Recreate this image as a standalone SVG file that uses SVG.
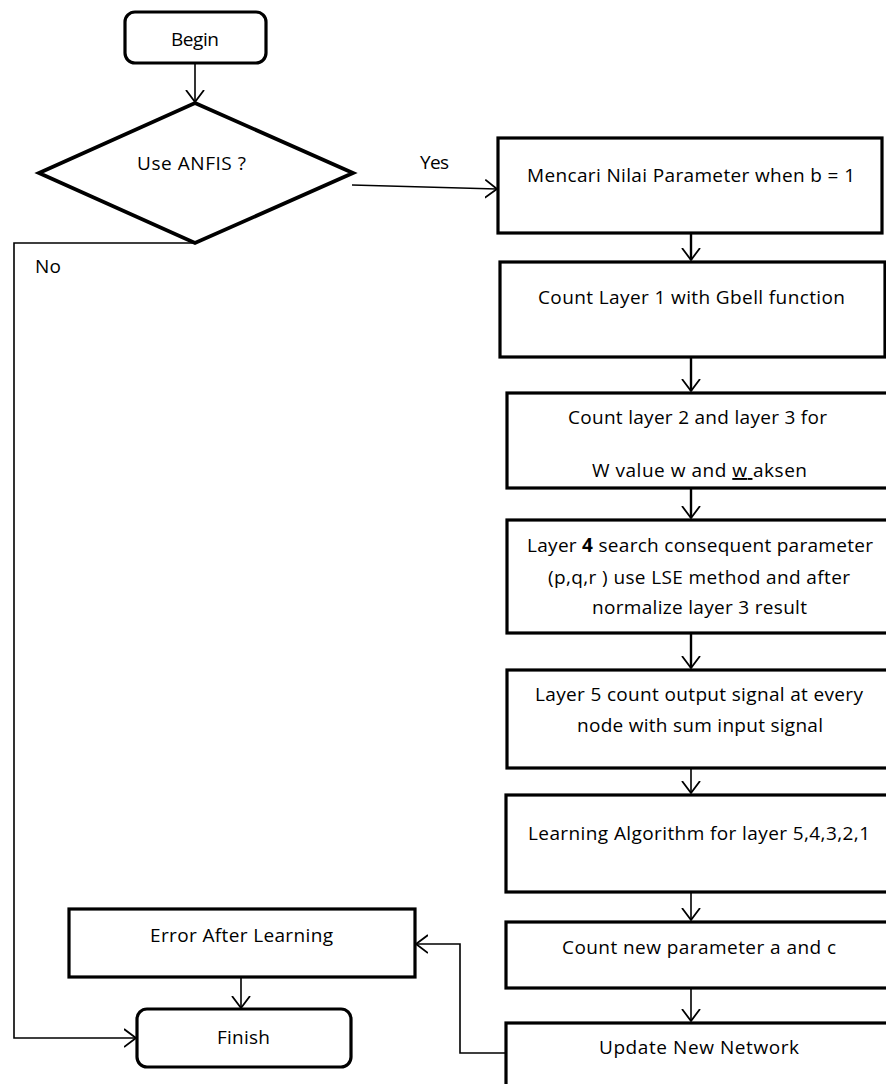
<svg xmlns="http://www.w3.org/2000/svg" width="886" height="1084" viewBox="0 0 886 1084">
<style>
.box{fill:#fff;stroke:#000;stroke-width:3.2}
.t{font-family:"Open Sans","Liberation Sans",sans-serif;font-size:19px;fill:#000}
.c{fill:none;stroke:#000;stroke-width:1.6}
.cv{fill:none;stroke:#000;stroke-width:2.4}
</style>
<defs>
<marker id="ah" markerUnits="userSpaceOnUse" markerWidth="14" markerHeight="20" refX="12" refY="9" orient="auto" viewBox="0 0 14 18">
<path d="M0,0 L12,9 L0,18" fill="none" stroke="#000" stroke-width="1.8"/>
</marker>
</defs>
<rect width="886" height="1084" fill="#fff"/>
<g id="connectors">
<path class="c" d="M195,63 L195,102" marker-end="url(#ah)"/>
<path class="c" d="M352,185 L497,189" marker-end="url(#ah)"/>
<path class="c" d="M195,243 L14,243 L14,1038 L136,1038" marker-end="url(#ah)"/>
<path class="cv" d="M691,233 L691,260" marker-end="url(#ah)"/>
<path class="cv" d="M691,357 L691,391" marker-end="url(#ah)"/>
<path class="cv" d="M691,488 L691,518" marker-end="url(#ah)"/>
<path class="cv" d="M691,633 L691,668" marker-end="url(#ah)"/>
<path class="c" d="M691,768 L691,793" marker-end="url(#ah)"/>
<path class="c" d="M691,892 L691,920" marker-end="url(#ah)"/>
<path class="c" d="M691,988 L691,1021" marker-end="url(#ah)"/>
<path class="c" d="M506,1053 L460,1053 L460,944 L416,944" marker-end="url(#ah)"/>
<path class="c" d="M241,977 L241,1008" marker-end="url(#ah)"/>
<text class="t" x="420" y="169" textLength="29">Yes</text>
<text class="t" x="35" y="273" textLength="26">No</text>
</g>
<g id="begin">
<rect class="box" x="125" y="12" width="141" height="51" rx="10"/>
<text class="t" x="171" y="46" textLength="48">Begin</text>
</g>
<g id="decision">
<polygon class="box" points="195,103 353,173 195,243 39,173" style="stroke-width:3.8"/>
<text class="t" x="137" y="170" textLength="109">Use ANFIS ?</text>
</g>
<g id="mencari">
<rect class="box" x="498" y="138" width="384" height="95"/>
<text class="t" x="527" y="182" textLength="328">Mencari Nilai Parameter when b = 1</text>
</g>
<g id="layer1">
<rect class="box" x="500" y="262" width="385" height="95"/>
<text class="t" x="538" y="304" textLength="307">Count Layer 1 with Gbell function</text>
</g>
<g id="layer23">
<rect class="box" x="507" y="393" width="385" height="95"/>
<text class="t" x="568" y="424" textLength="259">Count layer 2 and layer 3 for</text>
<text class="t" x="592" y="477" textLength="215">W value w and <tspan style="text-decoration:underline">w </tspan>aksen</text>
</g>
<g id="layer4">
<rect class="box" x="507" y="520" width="385" height="113"/>
<text class="t" x="527" y="552" textLength="346">Layer <tspan font-weight="bold">4</tspan> search consequent parameter</text>
<text class="t" x="548" y="584" textLength="302">(p,q,r ) use LSE method and after</text>
<text class="t" x="592" y="614" textLength="215">normalize layer 3 result</text>
</g>
<g id="layer5">
<rect class="box" x="507" y="670" width="385" height="98"/>
<text class="t" x="535" y="701" textLength="328">Layer 5 count output signal at every</text>
<text class="t" x="577" y="732" textLength="246">node with sum input signal</text>
</g>
<g id="learning">
<rect class="box" x="506" y="795" width="386" height="97"/>
<text class="t" x="528" y="840" textLength="342">Learning Algorithm for layer 5,4,3,2,1</text>
</g>
<g id="countnew">
<rect class="box" x="506" y="922" width="386" height="66"/>
<text class="t" x="562" y="954" textLength="274">Count new parameter a and c</text>
</g>
<g id="update">
<rect class="box" x="506" y="1023" width="386" height="70"/>
<text class="t" x="599" y="1054" textLength="200">Update New Network</text>
</g>
<g id="error">
<rect class="box" x="69" y="909" width="346" height="68"/>
<text class="t" x="150" y="942" textLength="183">Error After Learning</text>
</g>
<g id="finish">
<rect class="box" x="137" y="1009" width="214" height="58" rx="10"/>
<text class="t" x="217" y="1044" textLength="53">Finish</text>
</g>
</svg>
